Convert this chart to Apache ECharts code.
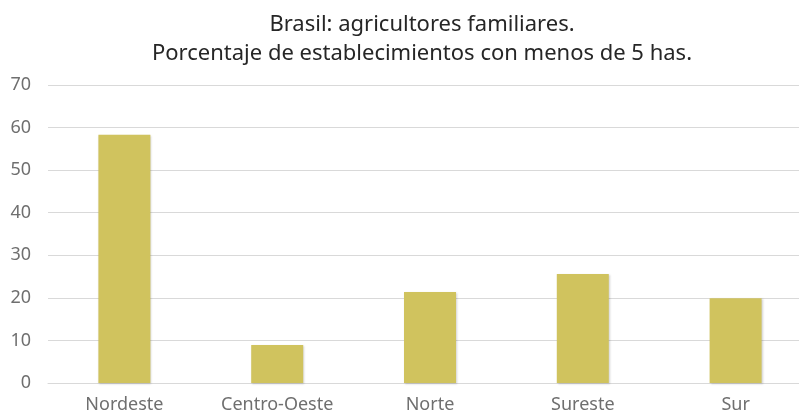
<!DOCTYPE html>
<html><head><meta charset="utf-8">
<script src="https://cdn.jsdelivr.net/npm/echarts@6/dist/echarts.min.js"></script>
<style>html,body{margin:0;padding:0;background:#fff;overflow:hidden}#c{width:812px;height:419px}</style>
</head><body><div id="c"></div>
<script>
const categories = ['Nordeste', 'Centro-Oeste', 'Norte', 'Sureste', 'Sur'];
const values = [58.3, 8.9, 21.4, 25.6, 19.9];
const titleLines = ['Brasil: agricultores familiares.', 'Porcentaje de establecimientos con menos de 5 has.'];

const chart = echarts.init(document.getElementById('c'));
chart.setOption({
  animation: false,
  title: {
    text: titleLines.join('\n'),
    left: 417, top: 5, textAlign: 'center',
    textStyle: { fontFamily: 'Noto Sans', fontSize: 22, fontWeight: 'normal', color: '#262626', lineHeight: 29 }
  },
  grid: { left: 48, top: 85, right: 0, height: 298, containLabel: false },
  xAxis: {
    type: 'category', data: categories,
    axisLine: { show: true, lineStyle: { color: '#d9d9d9' } },
    axisTick: { show: false },
    axisLabel: { fontFamily: 'Noto Sans', fontSize: 18, color: '#6f6f6f', margin: 13 }
  },
  yAxis: {
    type: 'value', min: 0, max: 70, interval: 10,
    axisLine: { show: false }, axisTick: { show: false },
    splitLine: { lineStyle: { color: '#d9d9d9', width: 1 } },
    axisLabel: { fontFamily: 'Noto Sans', fontSize: 18, color: '#6f6f6f', margin: 17 }
  },
  series: [{
    type: 'bar', data: values, barWidth: 52,
    itemStyle: { color: '#d0c35e', shadowColor: 'rgba(0,0,0,0.18)', shadowBlur: 2, shadowOffsetX: 1, shadowOffsetY: 1 }
  }]
});
</script></body></html>
